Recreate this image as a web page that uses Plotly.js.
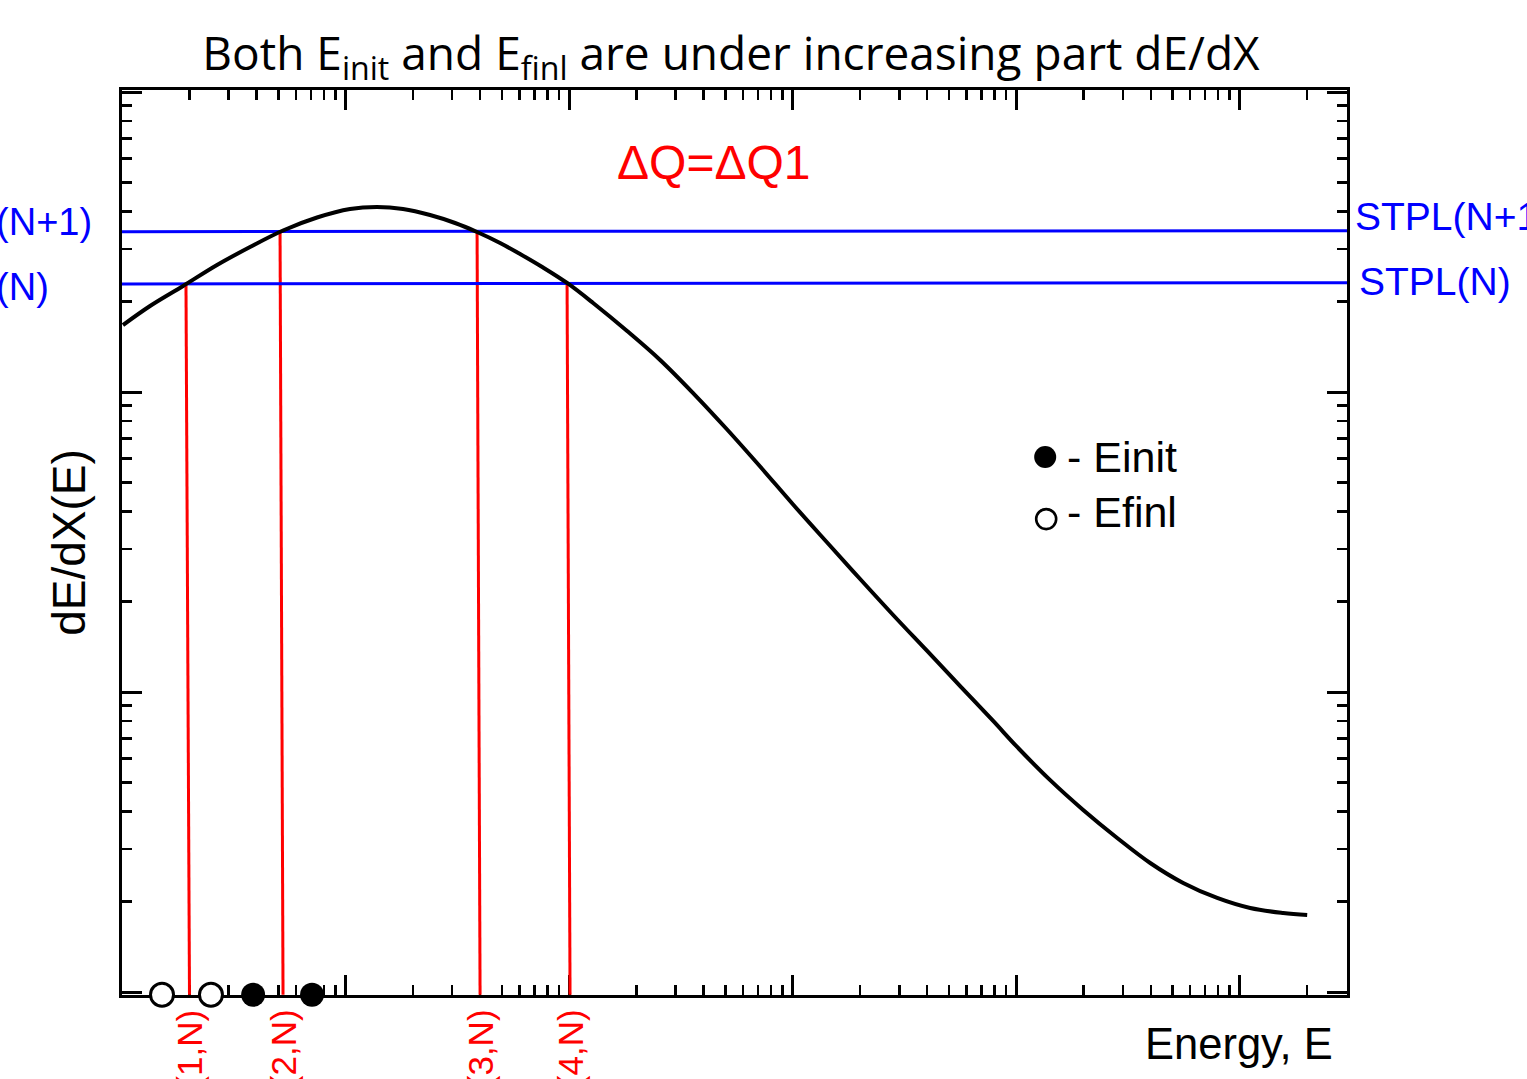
<!DOCTYPE html>
<html>
<head>
<meta charset="utf-8">
<script src="https://cdn.plot.ly/plotly-3.0.1.min.js"></script>
<style>html,body{margin:0;padding:0;background:#fff;}#chart{width:1527px;height:1079px;}</style>
</head>
<body>
<div id="chart"></div>
<script>
// ---- data ----
const curveE = [1.010, 1.335, 1.875, 2.661, 3.739, 5.253, 7.457, 10.47, 13.83, 18.08, 23.88, 30.90, 38.76, 49.13, 60.37, 76.50, 97.96, 128.1, 181.8, 255.4, 358.7, 509.3, 715.5, 1005, 1427, 2004, 2816, 3998, 5617, 7891, 10104, 14195, 19943, 28314, 39775, 55873, 79300, 111400, 156500, 200400];
const curveDEDX = [167.2, 193.5, 225.6, 265.1, 304.3, 345.4, 381.6, 407.4, 413.8, 407.4, 389.0, 365.9, 341.5, 313.8, 288.4, 260.0, 230.9, 198.0, 159.7, 127.9, 99.2, 74.99, 56.44, 42.17, 31.50, 23.80, 18.06, 13.70, 10.47, 8.005, 6.557, 5.083, 4.044, 3.262, 2.692, 2.309, 2.058, 1.905, 1.834, 1.806];

const stplE = [1, 301995];
const stplN = [229.1, 231.4];
const stplN1 = [342.3, 345.0];
const stplNames = ['STPL(N)', 'STPL(N+1)'];

const crossTopE = [1.933, 5.093, 38.76, 97.95];
const crossBotE = [2.004, 5.253, 39.98, 101.0];
const crossTopY = [229.1, 342.3, 341.5, 230.6];
const crossLabels = ['E(1,N)', 'E(2,N)', 'E(3,N)', 'E(4,N)'];
const axisBottomY = 0.979;

const initE = [3.86, 7.08];
const finlE = [1.51, 2.50];

const legendInit = {e: 13486, y: 60.7, label: '- Einit'};
const legendFinl = {e: 13624, y: 37.7, label: '- Efinl'};

const titleText = 'Both E<sub>init</sub> and E<sub>finl</sub> are under increasing part dE/dX';
const noteText = '\u0394Q=\u0394Q1';
const xTitle = 'Energy, E';
const yTitle = 'dE/dX(E)';

// ---- build ----
const W = 1527, H = 1079, L = 122, R = 1347, T = 90, B = 995;
const px = v => (v - L) / (R - L);
const py = v => (B - v) / (B - T);

function decadeMinor(lo, hi) {
  const out = [];
  for (let d = lo; d <= hi; d++) for (let k = 2; k <= 9; k++) out.push(k * Math.pow(10, d));
  return out;
}

const redX = [], redY = [];
crossTopE.forEach((e, i) => {
  redX.push(e, crossBotE[i], null);
  redY.push(crossTopY[i], axisBottomY, null);
});

const traces = [
  {x: redX, y: redY, mode: 'lines', line: {color: '#ff0000', width: 3}, hoverinfo: 'skip', showlegend: false, name: 'E(i,N)'},
  {x: stplE, y: stplN, mode: 'lines', line: {color: '#0000ff', width: 3}, showlegend: false, name: stplNames[0]},
  {x: stplE, y: stplN1, mode: 'lines', line: {color: '#0000ff', width: 3}, showlegend: false, name: stplNames[1]},
  {x: curveE, y: curveDEDX, mode: 'lines', line: {color: '#000000', width: 4, shape: 'spline', smoothing: 1}, showlegend: false, name: 'dE/dX'},
  {x: finlE.concat([legendFinl.e]), y: finlE.map(() => axisBottomY).concat([legendFinl.y]), mode: 'markers', cliponaxis: false,
   marker: {symbol: 'circle', size: [23, 23, 20], opacity: 1, color: '#ffffff', line: {color: '#000000', width: [3, 3, 2.6]}}, showlegend: false, name: 'Efinl'},
  {x: initE.concat([legendInit.e]), y: initE.map(() => axisBottomY).concat([legendInit.y]), mode: 'markers', cliponaxis: false,
   marker: {symbol: 'circle', size: [24, 24, 22], opacity: 1, color: '#000000', line: {width: 0}}, showlegend: false, name: 'Einit'}
];

const fontMain = 'Liberation Sans, Arial, Helvetica, sans-serif';

const annotations = [
  {text: noteText, xref: 'paper', yref: 'paper', x: px(714), y: py(163), xanchor: 'center', yanchor: 'middle', showarrow: false, font: {family: fontMain, size: 48, color: '#ff0000'}},
  {text: stplNames[1], xref: 'paper', yref: 'paper', x: px(-101), y: py(222), xanchor: 'left', yanchor: 'middle', showarrow: false, font: {family: fontMain, size: 38, color: '#0000ff'}},
  {text: stplNames[0], xref: 'paper', yref: 'paper', x: px(-101), y: py(287), xanchor: 'left', yanchor: 'middle', showarrow: false, font: {family: fontMain, size: 38, color: '#0000ff'}},
  {text: stplNames[1], xref: 'paper', yref: 'paper', x: px(1353), y: py(216), xanchor: 'left', yanchor: 'middle', showarrow: false, font: {family: fontMain, size: 39, color: '#0000ff'}},
  {text: stplNames[0], xref: 'paper', yref: 'paper', x: px(1357), y: py(281), xanchor: 'left', yanchor: 'middle', showarrow: false, font: {family: fontMain, size: 39, color: '#0000ff'}},
  {text: legendInit.label, xref: 'paper', yref: 'paper', x: px(1065), y: py(457), xanchor: 'left', yanchor: 'middle', showarrow: false, font: {family: fontMain, size: 43, color: '#000000'}},
  {text: legendFinl.label, xref: 'paper', yref: 'paper', x: px(1065), y: py(512), xanchor: 'left', yanchor: 'middle', showarrow: false, font: {family: fontMain, size: 43, color: '#000000'}},
  {text: xTitle, xref: 'paper', yref: 'paper', x: px(1335), y: py(1044), xanchor: 'right', yanchor: 'middle', showarrow: false, font: {family: fontMain, size: 43.5, color: '#000000'}}
];
crossLabels.forEach((t, i) => {
  annotations.push({text: t, xref: 'x', yref: 'paper', x: Math.log10(crossBotE[i]), y: py(1008), xanchor: 'center', yanchor: 'top', textangle: -90, showarrow: false, font: {family: fontMain, size: 35, color: '#ff0000'}});
});

const axisCommon = {
  type: 'log', showgrid: false, zeroline: false, showline: true, linecolor: '#000', linewidth: 3,
  mirror: 'allticks', ticks: 'inside', ticklen: 20, tickwidth: 3, tickcolor: '#000',
  showticklabels: false, layer: 'below traces', fixedrange: true
};

const layout = {
  width: W, height: H,
  margin: {l: L, r: W - R, t: T, b: H - B, pad: 0},
  paper_bgcolor: '#ffffff', plot_bgcolor: '#ffffff',
  showlegend: false,
  title: {text: titleText, x: 731 / W, xref: 'container', xanchor: 'center', y: 1 - 54 / H, yref: 'container', yanchor: 'middle',
          font: {family: 'Open Sans, Lato, sans-serif', size: 46, color: '#000'}},
  xaxis: Object.assign({}, axisCommon, {
    range: [0, 5.48], tickmode: 'array', tickvals: [1, 10, 100, 1000, 10000, 100000],
    minor: {tickmode: 'array', tickvals: decadeMinor(0, 5), ticks: 'inside', ticklen: 10, tickwidth: 2.5, tickcolor: '#000'}
  }),
  yaxis: Object.assign({}, axisCommon, {
    range: [-0.01, 3.0067], tickmode: 'array', tickvals: [1, 10, 100, 1000],
    minor: {tickmode: 'array', tickvals: decadeMinor(0, 2), ticks: 'inside', ticklen: 10, tickwidth: 2.5, tickcolor: '#000'},
    title: {text: yTitle, standoff: 19, font: {family: fontMain, size: 46, color: '#000'}}
  }),
  annotations: annotations
};

Plotly.newPlot('chart', traces, layout, {displayModeBar: false, staticPlot: true});
</script>
</body>
</html>
